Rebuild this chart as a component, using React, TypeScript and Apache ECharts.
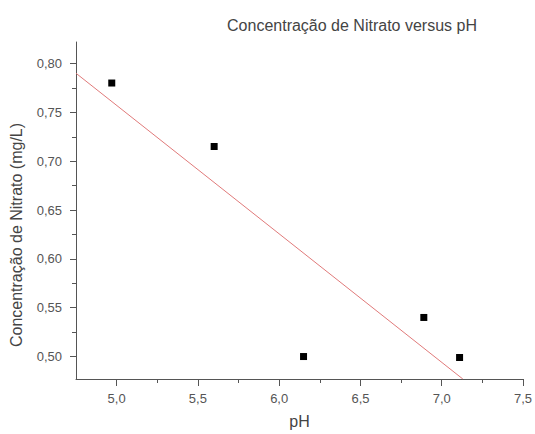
import React, { useEffect, useRef } from "react";
import * as echarts from "echarts";

const phValues = [4.97, 5.6, 6.15, 6.89, 7.11];
const nitrateValues = [0.78, 0.715, 0.5, 0.54, 0.499];
const fitLine = [
  [4.75, 0.79],
  [7.13, 0.477],
];
const xMajorTicks = [5.0, 5.5, 6.0, 6.5, 7.0, 7.5];
const xMinorTicks = [5.25, 5.75, 6.25, 6.75, 7.25];
const yMajorTicks = [0.5, 0.55, 0.6, 0.65, 0.7, 0.75, 0.8];
const yMinorTicks = [0.525, 0.575, 0.625, 0.675, 0.725, 0.775];
const titleText = "Concentração de Nitrato versus pH";
const xName = "pH";
const yName = "Concentração de Nitrato (mg/L)";

const FONT = "Arial, 'Liberation Sans', sans-serif";
const AX = "#555";

export default function App() {
  const ref = useRef<HTMLDivElement>(null);
  useEffect(() => {
    if (!ref.current) return;
    const chart = echarts.init(ref.current, null, { renderer: "svg" });
    const commaFmt = (d: number) => (v: number) => v.toFixed(d).replace(".", ",");
    chart.setOption({
      animation: false,
      backgroundColor: "#fff",
      textStyle: { fontFamily: FONT },
      grid: { left: 76, right: 10, top: 42, bottom: 51 },
      graphic: [
        {
          type: "text",
          x: 352,
          y: 25,
          style: {
            text: titleText,
            fontSize: 16,
            fontFamily: FONT,
            fill: "#444",
            textAlign: "center",
            textVerticalAlign: "middle",
          },
        },
        {
          type: "text",
          x: 16,
          y: 235,
          rotation: Math.PI / 2,
          style: {
            text: yName,
            fontSize: 16,
            fontFamily: FONT,
            fill: "#444",
            textAlign: "center",
            textVerticalAlign: "middle",
          },
        },
      ],
      xAxis: [
        {
          type: "value",
          min: 4.75,
          max: 7.5,
          name: xName,
          nameLocation: "middle",
          nameGap: 34,
          nameTextStyle: { fontSize: 16, color: "#444", fontFamily: FONT },
          axisLine: { show: true, lineStyle: { color: AX, width: 1 } },
          axisTick: { show: true, length: 7, customValues: xMajorTicks, lineStyle: { color: AX } },
          axisLabel: {
            customValues: xMajorTicks,
            formatter: commaFmt(1),
            fontSize: 13,
            color: "#555",
            margin: 13,
            fontFamily: FONT,
          },
          splitLine: { show: false },
        },
        {
          type: "value",
          min: 4.75,
          max: 7.5,
          position: "bottom",
          axisLine: { show: false },
          axisTick: { show: true, length: 4, customValues: xMinorTicks, lineStyle: { color: AX } },
          axisLabel: { show: false },
          splitLine: { show: false },
        },
      ],
      yAxis: [
        {
          type: "value",
          min: 0.477,
          max: 0.822,
          axisLine: { show: true, lineStyle: { color: AX, width: 1 } },
          axisTick: { show: true, length: 6, customValues: yMajorTicks, lineStyle: { color: AX } },
          axisLabel: {
            customValues: yMajorTicks,
            formatter: commaFmt(2),
            fontSize: 13,
            color: "#555",
            margin: 14,
            fontFamily: FONT,
          },
          splitLine: { show: false },
        },
        {
          type: "value",
          min: 0.477,
          max: 0.822,
          position: "left",
          axisLine: { show: false },
          axisTick: { show: true, length: 4, customValues: yMinorTicks, lineStyle: { color: AX } },
          axisLabel: { show: false },
          splitLine: { show: false },
        },
      ],
      series: [
        {
          type: "line",
          data: fitLine,
          showSymbol: false,
          symbol: "none",
          lineStyle: { color: "#e07a7a", width: 1 },
          silent: true,
        },
        {
          type: "scatter",
          data: phValues.map((x, i) => [x, nitrateValues[i]]),
          symbol: "rect",
          symbolSize: 7,
          itemStyle: { color: "#000", opacity: 1 },
        },
      ],
    });
    return () => chart.dispose();
  }, []);
  return (
    <div
      ref={ref}
      style={{ position: "fixed", left: 0, top: 0, width: 535, height: 434, background: "#fff" }}
    />
  );
}
